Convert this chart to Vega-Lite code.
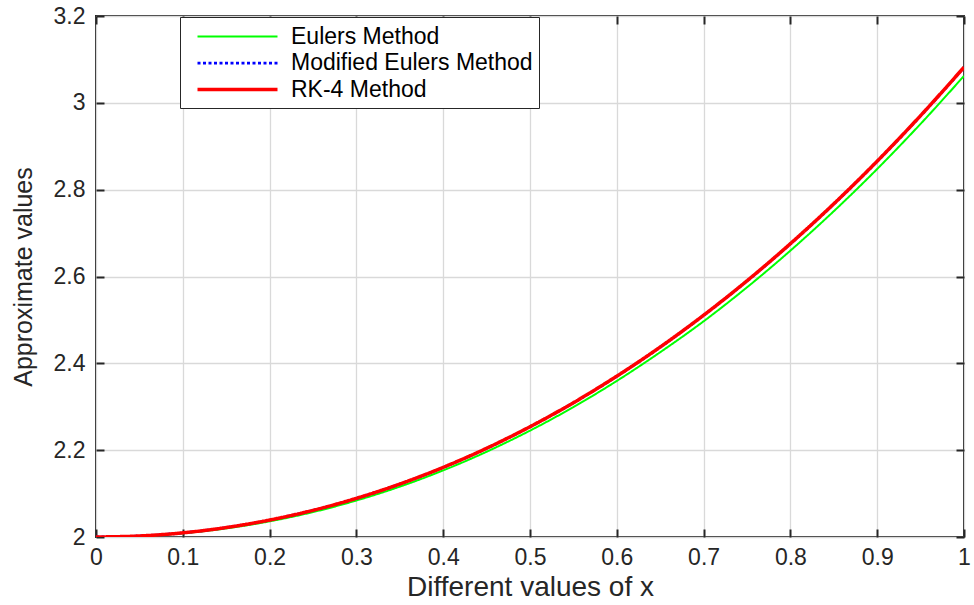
{
  "$schema": "https://vega.github.io/schema/vega-lite/v6.json",
  "width": 868,
  "height": 521,
  "autosize": {"type": "none"},
  "padding": {"left": 96, "top": 16, "right": 10, "bottom": 68},
  "background": "white",
  "config": {
    "view": {"stroke": "#262626", "strokeWidth": 2},
    "axis": {
      "domain": false,
      "gridColor": "#d9d9d9",
      "gridWidth": 1.3,
      "tickColor": "#262626",
      "tickWidth": 2,
      "labelColor": "#262626",
      "titleColor": "#262626",
      "titleFontWeight": "normal",
      "labelFlush": false,
      "labelOverlap": false
    }
  },
  "data": {
    "values": [
      {"x": 0.00, "y": 2.0000, "method": "Eulers Method"},
      {"x": 0.05, "y": 2.0019, "method": "Eulers Method"},
      {"x": 0.10, "y": 2.0086, "method": "Eulers Method"},
      {"x": 0.15, "y": 2.0198, "method": "Eulers Method"},
      {"x": 0.20, "y": 2.0361, "method": "Eulers Method"},
      {"x": 0.25, "y": 2.0574, "method": "Eulers Method"},
      {"x": 0.30, "y": 2.0841, "method": "Eulers Method"},
      {"x": 0.35, "y": 2.1160, "method": "Eulers Method"},
      {"x": 0.40, "y": 2.1534, "method": "Eulers Method"},
      {"x": 0.45, "y": 2.1964, "method": "Eulers Method"},
      {"x": 0.50, "y": 2.2450, "method": "Eulers Method"},
      {"x": 0.55, "y": 2.2993, "method": "Eulers Method"},
      {"x": 0.60, "y": 2.3595, "method": "Eulers Method"},
      {"x": 0.65, "y": 2.4256, "method": "Eulers Method"},
      {"x": 0.70, "y": 2.4968, "method": "Eulers Method"},
      {"x": 0.75, "y": 2.5751, "method": "Eulers Method"},
      {"x": 0.80, "y": 2.6596, "method": "Eulers Method"},
      {"x": 0.85, "y": 2.7504, "method": "Eulers Method"},
      {"x": 0.90, "y": 2.8477, "method": "Eulers Method"},
      {"x": 0.95, "y": 2.9516, "method": "Eulers Method"},
      {"x": 1.00, "y": 3.0620, "method": "Eulers Method"},
      {"x": 0.00, "y": 2.0000, "method": "Modified Eulers Method"},
      {"x": 0.05, "y": 2.0024, "method": "Modified Eulers Method"},
      {"x": 0.10, "y": 2.0095, "method": "Modified Eulers Method"},
      {"x": 0.15, "y": 2.0217, "method": "Modified Eulers Method"},
      {"x": 0.20, "y": 2.0390, "method": "Modified Eulers Method"},
      {"x": 0.25, "y": 2.0613, "method": "Modified Eulers Method"},
      {"x": 0.30, "y": 2.0889, "method": "Modified Eulers Method"},
      {"x": 0.35, "y": 2.1218, "method": "Modified Eulers Method"},
      {"x": 0.40, "y": 2.1602, "method": "Modified Eulers Method"},
      {"x": 0.45, "y": 2.2041, "method": "Modified Eulers Method"},
      {"x": 0.50, "y": 2.2537, "method": "Modified Eulers Method"},
      {"x": 0.55, "y": 2.3090, "method": "Modified Eulers Method"},
      {"x": 0.60, "y": 2.3701, "method": "Modified Eulers Method"},
      {"x": 0.65, "y": 2.4372, "method": "Modified Eulers Method"},
      {"x": 0.70, "y": 2.5104, "method": "Modified Eulers Method"},
      {"x": 0.75, "y": 2.5896, "method": "Modified Eulers Method"},
      {"x": 0.80, "y": 2.6751, "method": "Modified Eulers Method"},
      {"x": 0.85, "y": 2.7668, "method": "Modified Eulers Method"},
      {"x": 0.90, "y": 2.8651, "method": "Modified Eulers Method"},
      {"x": 0.95, "y": 2.9699, "method": "Modified Eulers Method"},
      {"x": 1.00, "y": 3.0813, "method": "Modified Eulers Method"},
      {"x": 0.00, "y": 2.0000, "method": "RK-4 Method"},
      {"x": 0.05, "y": 2.0024, "method": "RK-4 Method"},
      {"x": 0.10, "y": 2.0096, "method": "RK-4 Method"},
      {"x": 0.15, "y": 2.0218, "method": "RK-4 Method"},
      {"x": 0.20, "y": 2.0391, "method": "RK-4 Method"},
      {"x": 0.25, "y": 2.0614, "method": "RK-4 Method"},
      {"x": 0.30, "y": 2.0891, "method": "RK-4 Method"},
      {"x": 0.35, "y": 2.1220, "method": "RK-4 Method"},
      {"x": 0.40, "y": 2.1604, "method": "RK-4 Method"},
      {"x": 0.45, "y": 2.2044, "method": "RK-4 Method"},
      {"x": 0.50, "y": 2.2540, "method": "RK-4 Method"},
      {"x": 0.55, "y": 2.3093, "method": "RK-4 Method"},
      {"x": 0.60, "y": 2.3705, "method": "RK-4 Method"},
      {"x": 0.65, "y": 2.4376, "method": "RK-4 Method"},
      {"x": 0.70, "y": 2.5108, "method": "RK-4 Method"},
      {"x": 0.75, "y": 2.5901, "method": "RK-4 Method"},
      {"x": 0.80, "y": 2.6756, "method": "RK-4 Method"},
      {"x": 0.85, "y": 2.7674, "method": "RK-4 Method"},
      {"x": 0.90, "y": 2.8657, "method": "RK-4 Method"},
      {"x": 0.95, "y": 2.9706, "method": "RK-4 Method"},
      {"x": 1.00, "y": 3.0820, "method": "RK-4 Method"}
    ]
  },
  "layer": [
    {
      "mark": {"type": "line", "interpolate": "monotone", "clip": true},
      "encoding": {
        "x": {
          "field": "x", "type": "quantitative",
          "scale": {"domain": [0, 1], "nice": false, "zero": false},
          "axis": {
            "orient": "bottom",
            "values": [0, 0.1, 0.2, 0.3, 0.4, 0.5, 0.6, 0.7, 0.8, 0.9, 1],
            "format": "~g",
            "title": "Different values of x",
            "tickSize": -8,
            "labelPadding": 17,
            "labelFont": "Liberation Sans",
            "labelFontSize": 23,
            "titleFont": "Liberation Sans",
            "titleFontSize": 28,
            "titlePadding": 4
          }
        },
        "y": {
          "field": "y", "type": "quantitative",
          "scale": {"domain": [2, 3.2], "nice": false, "zero": false},
          "axis": {
            "orient": "left",
            "values": [2, 2.2, 2.4, 2.6, 2.8, 3, 3.2],
            "format": "~g",
            "title": "Approximate values",
            "tickSize": -8,
            "labelPadding": 19,
            "labelFont": "Liberation Sans",
            "labelFontSize": 23,
            "titleFont": "Liberation Sans",
            "titleFontSize": 25,
            "titlePadding": 17
          }
        },
        "color": {
          "field": "method", "type": "nominal",
          "scale": {
            "domain": ["Eulers Method", "Modified Eulers Method", "RK-4 Method"],
            "range": ["#00ff00", "#0000ff", "#ff0000"]
          },
          "legend": {
            "title": null,
            "orient": "none",
            "legendX": 84,
            "legendY": 1,
            "strokeColor": "#262626",
            "fillColor": "white",
            "padding": 6,
            "symbolOffset": 37,
            "symbolType": "M-3.2,0H3.2",
            "symbolSize": 625,
            "symbolStrokeWidth": 2.5,
            "labelOffset": 39,
            "labelFont": "Liberation Sans",
            "labelFontSize": 23,
            "labelColor": "#000000",
            "rowPadding": -2,
            "labelLimit": 400
          }
        },
        "strokeDash": {
          "field": "method", "type": "nominal",
          "scale": {
            "domain": ["Eulers Method", "Modified Eulers Method", "RK-4 Method"],
            "range": [[1, 0], [3, 2.5], [1, 0]]
          },
          "legend": null
        },
        "strokeWidth": {
          "field": "method", "type": "nominal",
          "scale": {
            "domain": ["Eulers Method", "Modified Eulers Method", "RK-4 Method"],
            "range": [2, 3.5, 1.8]
          },
          "legend": null
        }
      }
    },
    {
      "mark": {"type": "line", "opacity": 0},
      "encoding": {
        "x": {
          "field": "x", "type": "quantitative",
          "axis": {
            "orient": "top",
            "values": [0, 0.1, 0.2, 0.3, 0.4, 0.5, 0.6, 0.7, 0.8, 0.9, 1],
            "labels": false,
            "grid": false,
            "title": null,
            "tickSize": -8
          }
        },
        "y": {
          "field": "y", "type": "quantitative",
          "axis": {
            "orient": "right",
            "values": [2, 2.2, 2.4, 2.6, 2.8, 3, 3.2],
            "labels": false,
            "grid": false,
            "title": null,
            "tickSize": -8
          }
        },
        "detail": {"field": "method", "type": "nominal"}
      }
    }
  ],
  "resolve": {"axis": {"x": "independent", "y": "independent"}}
}
